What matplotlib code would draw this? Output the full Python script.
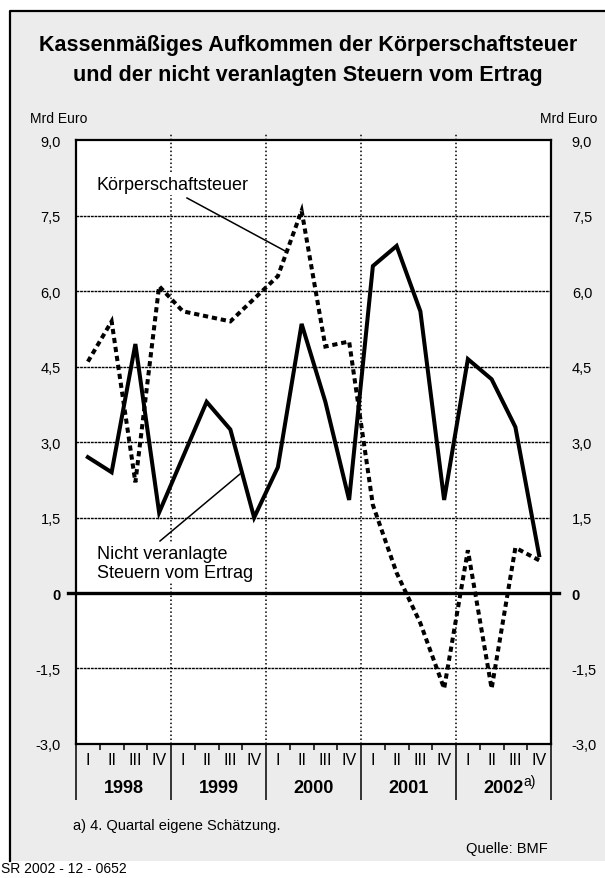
import matplotlib
matplotlib.use("Agg")
import matplotlib.pyplot as plt
import matplotlib.transforms as mtransforms
from matplotlib.patches import Rectangle
import numpy as np

# ---------------- data ----------------
years = ["1998", "1999", "2000", "2001", "2002"]
quarters = ["I", "II", "III", "IV"]
koerperschaftsteuer = [4.6, 5.4, 2.2, 6.1,
                       5.6, 5.5, 5.4, 5.85,
                       6.3, 7.6, 4.9, 5.0,
                       1.75, 0.4, -0.6, -1.9,
                       0.85, -1.9, 0.9, 0.65]
nicht_veranlagte = [2.7, 2.4, 4.95, 1.6,
                    2.7, 3.8, 3.25, 1.5,
                    2.5, 5.35, 3.8, 1.85,
                    6.5, 6.9, 5.6, 1.85,
                    4.65, 4.25, 3.3, 0.75]
ytick_values = [-3.0, -1.5, 0.0, 1.5, 3.0, 4.5, 6.0, 7.5, 9.0]
ytick_labels = ["-3,0", "-1,5", "0", "1,5", "3,0", "4,5", "6,0", "7,5", "9,0"]

FONT = "Liberation Sans"
plt.rcParams["font.family"] = [FONT, "DejaVu Sans"]

W, H = 605, 879
fig = plt.figure(figsize=(W / 100, H / 100), dpi=100, facecolor="white")

def fx(px):
    return px / W

def fy(py):
    return 1 - py / H

# background frame
fig.patches.append(Rectangle((fx(10), fy(862)), 1.2, fy(12) - fy(862),
                             transform=fig.transFigure, facecolor="#ececec",
                             edgecolor="none", zorder=-10))
fig.add_artist(plt.Line2D([fx(10), fx(10), 1.01], [fy(862), fy(12), fy(12)],
                          transform=fig.transFigure, color="black", lw=1.6,
                          zorder=-9))

ax_l, ax_r, ax_t, ax_b = 76, 551, 141.3, 744.9
ax = fig.add_axes([fx(ax_l), fy(ax_b), fx(ax_r) - fx(ax_l), fy(ax_t) - fy(ax_b)])
ax.set_facecolor("white")
n = len(koerperschaftsteuer)
xs = np.arange(n) + 0.5
ax.set_xlim(0, n)
ax.set_ylim(-3, 9)

# grid lines
for v in ytick_values[1:-1]:
    if v == 0:
        continue
    ax.axhline(v, color="black", lw=1.0, ls=(0, (2, 0.6)), zorder=1)
for k in range(1, len(years)):
    ax.plot([4 * k, 4 * k], [-3, 9.12], color="black", lw=1.1,
            ls=(0, (1, 1.6)), zorder=1, clip_on=False)
# zero line (extends beyond axes)
ax.plot([-0.35, n + 0.35], [0, 0], color="black", lw=2.4, clip_on=False, zorder=2)

# series
ax.plot(xs, koerperschaftsteuer, color="black", lw=2.9, dashes=(1.3, 0.95),
        solid_joinstyle="miter", dash_joinstyle="miter", dash_capstyle="butt", zorder=4)
ax.plot(xs, nicht_veranlagte, color="black", lw=2.9,
        solid_joinstyle="miter", zorder=5)

# spines
for s in ax.spines.values():
    s.set_linewidth(1.6)
    s.set_color("black")

# y tick labels left
ax.set_yticks(ytick_values)
ax.set_yticklabels(ytick_labels)
ax.tick_params(axis="y", length=0, pad=11, labelsize=10.5)
ax2 = ax.twinx()
ax2.set_ylim(-3, 9)
ax2.set_yticks(ytick_values)
ax2.set_yticklabels(ytick_labels)
ax2.tick_params(axis="y", length=0, pad=15, labelsize=10.5)
for lab in list(ax.get_yticklabels()) + list(ax2.get_yticklabels()):
    if lab.get_text() == "0":
        lab.set_fontweight("bold")
for s in ax2.spines.values():
    s.set_visible(False)

# x ticks: year separators (long) and quarter ticks (short)
ax.set_xticks(np.arange(0, n + 1, 4))
ax.set_xticks([i for i in range(1, n) if i % 4 != 0], minor=True)
ax.tick_params(axis="x", which="major", length=40, width=1.1, direction="out",
               labelbottom=False)
ax.tick_params(axis="x", which="minor", length=4.5, width=1.1, direction="out",
               labelbottom=False)

trans = mtransforms.blended_transform_factory(ax.transData, fig.transFigure)
for i in range(n):
    ax.text(xs[i], fy(761), quarters[i % 4], transform=trans, ha="center",
            va="center", fontsize=11.5)
for k, y in enumerate(years):
    ax.text(4 * k + 2, fy(789), y, transform=trans, ha="center", va="center",
            fontsize=13, fontweight="bold")
ax.annotate("a)", xy=(4 * (len(years) - 1) + 2, fy(789)), xycoords=trans,
            xytext=(14, 5), textcoords="offset points", ha="left", va="center",
            fontsize=10)

# annotations
box = dict(facecolor="white", edgecolor="none", pad=1.5)
ax.text(fx(97), fy(185), "Körperschaftsteuer", transform=fig.transFigure,
        ha="left", va="center", fontsize=13, bbox=box, zorder=6)
fig.add_artist(plt.Line2D([fx(187), fx(287)], [fy(199), fy(253)],
                          transform=fig.transFigure, color="black", lw=1.1))
ax.text(fx(97), fy(564), "Nicht veranlagte\nSteuern vom Ertrag",
        transform=fig.transFigure, ha="left", va="center", fontsize=13,
        linespacing=1.12, bbox=box, zorder=6)
fig.add_artist(plt.Line2D([fx(240), fx(160)], [fy(475), fy(542)],
                          transform=fig.transFigure, color="black", lw=1.1))

# titles and texts
fig.text(0.509, fy(46), "Kassenmäßiges Aufkommen der Körperschaftsteuer",
         ha="center", va="center", fontsize=15.5, fontweight="bold")
fig.text(0.509, fy(76), "und der nicht veranlagten Steuern vom Ertrag",
         ha="center", va="center", fontsize=15.5, fontweight="bold")
fig.text(fx(30), fy(119), "Mrd Euro", ha="left", va="center", fontsize=10)
fig.text(fx(597), fy(119), "Mrd Euro", ha="right", va="center", fontsize=10)
fig.text(fx(73), fy(826), "a) 4. Quartal eigene Schätzung.", ha="left",
         va="center", fontsize=10.5)
fig.text(fx(548), fy(849), "Quelle: BMF", ha="right", va="center", fontsize=10.5)
fig.text(fx(1), fy(869), "SR 2002 - 12 - 0652", ha="left", va="center",
         fontsize=10)

fig.savefig("out.png", dpi=100, facecolor=fig.get_facecolor())
